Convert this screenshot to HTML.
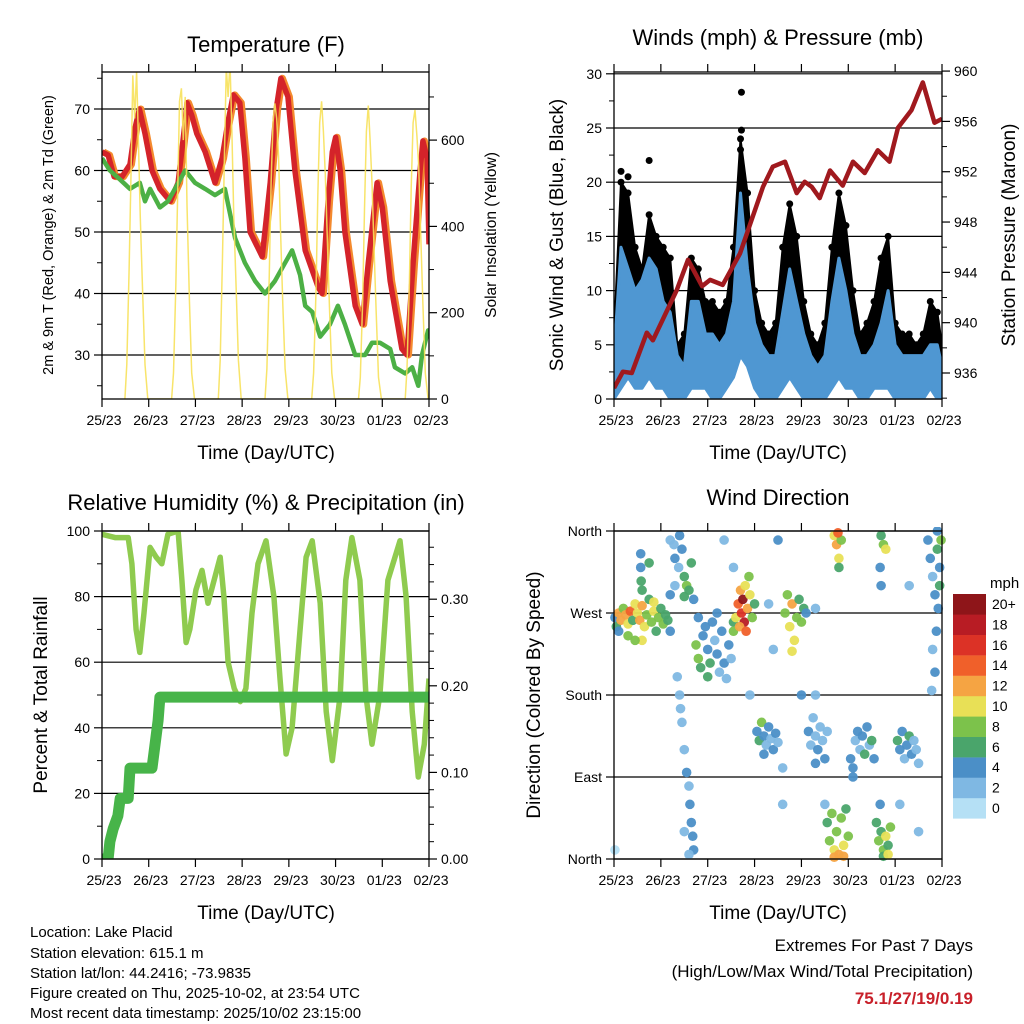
<!DOCTYPE html>
<html><head><meta charset="utf-8"><style>
body{margin:0;background:#fff;}
svg{display:block;font-family:"Liberation Sans",Arial,sans-serif;}
</style></head><body>
<svg id="s" width="1024" height="1024" viewBox="0 0 1024 1024" xmlns="http://www.w3.org/2000/svg">
<defs>
<clipPath id="c1"><rect x="102" y="72" width="327" height="327"/></clipPath>
<clipPath id="c2"><rect x="614" y="72" width="328" height="327"/></clipPath>
<clipPath id="c3"><rect x="102" y="531" width="327" height="328"/></clipPath>
<clipPath id="c4"><rect x="610" y="527" width="336" height="336"/></clipPath>
</defs>
<g id="g1"></g>
<g id="g2"></g>
<g id="g3"></g>
<g id="g4"></g>
<g font-size="22" text-anchor="middle" fill="#000">
<text x="266" y="52">Temperature (F)</text>
<text x="778" y="45">Winds (mph) &amp; Pressure (mb)</text>
<text x="266" y="510">Relative Humidity (%) &amp; Precipitation (in)</text>
<text x="778" y="505">Wind Direction</text>
</g>
<g font-size="19" text-anchor="middle">
<text x="266" y="459">Time (Day/UTC)</text>
<text x="778" y="459">Time (Day/UTC)</text>
<text x="266" y="919">Time (Day/UTC)</text>
<text x="778" y="919">Time (Day/UTC)</text>
<text font-size="14.5" transform="translate(53,235) rotate(-90)">2m &amp; 9m T (Red, Orange) &amp; 2m Td (Green)</text>
<text font-size="15.5" transform="translate(496,235) rotate(-90)">Solar Insolation (Yellow)</text>
<text transform="translate(563,235) rotate(-90)">Sonic Wind &amp; Gust (Blue, Black)</text>
<text transform="translate(1015,235) rotate(-90)">Station Pressure (Maroon)</text>
<text transform="translate(47,695) rotate(-90)">Percent &amp; Total Rainfall</text>
<text transform="translate(540,695) rotate(-90)">Direction (Colored By Speed)</text>
</g>
<g font-size="15">
<text x="30" y="937">Location: Lake Placid</text>
<text x="30" y="958">Station elevation: 615.1 m</text>
<text x="30" y="978">Station lat/lon: 44.2416; -73.9835</text>
<text x="30" y="998">Figure created on Thu, 2025-10-02, at 23:54 UTC</text>
<text x="30" y="1018">Most recent data timestamp: 2025/10/02 23:15:00</text>
</g>
<g font-size="17" text-anchor="end">
<text x="973" y="951">Extremes For Past 7 Days</text>
<text x="973" y="977">(High/Low/Max Wind/Total Precipitation)</text>
<text x="973" y="1004" fill="#c8202a" font-weight="bold">75.1/27/19/0.19</text>
</g>
</svg>
<script>
// ---- data ----
const dayLabels=["25/23","26/23","27/23","28/23","29/23","30/23","01/23","02/23"];
const tempT=[0,.13,.26,.43,.6,.71,.8,.92,1.07,1.24,1.46,1.63,1.78,1.82,1.92,2.03,2.21,2.42,2.57,2.7,2.81,2.95,3.06,3.17,3.43,3.6,3.73,3.83,3.98,4.13,4.35,4.63,4.71,4.84,4.93,5.0,5.1,5.2,5.42,5.57,5.7,5.89,6.0,6.17,6.42,6.53,6.66,6.81,6.87,6.96,7.0];
const tempV=[63,62.5,59,59,61,67,70,66,60,57,55,58,68,71,69,66,63,58,62,68,72.3,71,62,50,46,58,70,75,72,60,47,41,40,55,63,65.4,60,50,38,35,45,58,54,42,31,30,45,60,64.8,62,48];
const dewT=[0,.17,.39,.6,.81,.92,1.03,1.24,1.41,1.56,1.78,1.99,2.21,2.42,2.63,2.74,2.85,3.06,3.28,3.49,3.7,3.92,4.07,4.24,4.35,4.5,4.67,4.88,5.05,5.2,5.42,5.63,5.78,5.95,6.17,6.27,6.49,6.64,6.77,6.85,6.98,7.0];
const dewV=[62,60,58.5,57,58,55,57,54,55,57,60,58,57,56,57,53,49,45,42,40,42,45,47,43,38,37,33,35,38,35,30,30,32,32,31,28,27,28,25,30,34,33];
const solarT=[.49,.53,.58,.62,.66,.7,.74,.78,.82,.87,.92,.98, 1.49,1.53,1.58,1.62,1.66,1.7,1.74,1.78,1.82,1.87,1.92,1.98, 2.49,2.53,2.58,2.62,2.66,2.7,2.74,2.78,2.82,2.87,2.92,2.98, 3.49,3.53,3.58,3.62,3.66,3.7,3.74,3.78,3.82,3.87,3.92,3.98, 4.49,4.53,4.58,4.62,4.66,4.7,4.74,4.78,4.82,4.87,4.92,4.98, 5.49,5.53,5.58,5.62,5.66,5.7,5.74,5.78,5.82,5.87,5.92,5.98, 6.49,6.53,6.58,6.62,6.66,6.7,6.74,6.78,6.82,6.87,6.92,6.98];
const solarW=[0,80,300,520,750,650,760,600,420,250,80,0, 0,60,260,480,690,720,600,700,450,230,60,0, 0,90,330,560,770,700,780,620,430,260,90,0, 0,70,280,500,640,685,650,560,400,220,70,0, 0,60,250,470,640,690,620,520,380,210,60,0, 0,50,230,440,620,680,600,500,360,200,50,0, 0,70,270,490,640,670,610,540,390,220,60,0];
const windT=[0,.15,.3,.45,.6,.75,.9,1.05,1.2,1.35,1.5,1.65,1.8,1.95,2.1,2.25,2.4,2.55,2.7,2.85,3.0,3.15,3.3,3.45,3.6,3.75,3.9,4.05,4.2,4.35,4.5,4.65,4.8,4.95,5.1,5.25,5.4,5.55,5.7,5.85,6.0,6.15,6.3,6.45,6.6,6.75,6.9,7.0];
const gustV=[6,20,19,14,12,17,15,14,13,5,6,13,12,9,9,8,9,14,24,19,10,7,6,7,14,18,15,9,6,5,7,14,19,16,10,6,7,9,13,15,7,6,6,5,6,9,8,5];
const windHi=[4,14,12,10,11,13,12,9,8,4,3,9,9,6,6,5,6,9,19,12,7,5,4,4,8,12,9,6,4,3,4,9,13,10,6,4,4,5,7,10,5,4,4,4,4,5,5,3];
const windLo=[0,1,2,1,1,2,1,1,0,0,0,1,1,1,0,0,1,2,4,3,1,0,0,0,1,2,1,0,0,0,0,1,2,1,1,0,0,1,1,1,0,0,0,0,0,1,0,0];
const gustPeakT=[.75,2.72,2.72,2.7,.15,.3];
const gustPeakV=[22,28.3,24.8,23,21,20.5];
const presT=[0,.19,.38,.7,.83,1.34,1.58,1.88,2.05,2.32,2.69,3.18,3.39,3.65,3.9,4.07,4.22,4.39,4.61,4.88,5.1,5.35,5.63,5.88,6.06,6.35,6.59,6.84,7.0];
const presV=[934.8,936.1,936,939.2,938.6,942.6,945,942.9,943.4,943,945.5,950.8,952.4,952.8,950.3,951.2,950.8,949.9,952.1,950.9,952.8,951.9,953.7,952.8,955.5,956.9,959.1,955.9,956.2];
const rhT=[0,.28,.56,.64,.73,.81,.9,1.03,1.16,1.28,1.41,1.63,1.71,1.8,1.88,2.01,2.14,2.27,2.4,2.53,2.61,2.7,2.83,2.96,3.08,3.21,3.34,3.51,3.68,3.81,3.94,4.07,4.24,4.37,4.5,4.67,4.8,4.93,5.1,5.22,5.35,5.52,5.65,5.78,5.95,6.12,6.38,6.51,6.64,6.77,6.9,7.0];
const rhV=[99,98,98,90,70,63,75,95,92,90,99,100,85,66,70,82,88,78,85,92,80,60,52,48,52,75,90,97,80,55,32,40,70,92,97,78,45,30,50,85,98,85,50,35,50,85,97,80,45,25,35,55];
const rainT=[0,.13,.17,.24,.34,.39,.56,.6,1.07,1.13,1.2,1.24,7.0];
const rainV=[0,0,.02,.035,.05,.07,.07,.105,.105,.13,.16,.187,.187];
const dirDay=[0.02,0.05,0.1,0.15,0.2,0.25,0.3,0.35,0.4,0.45,0.5,0.55,0.6,0.65,0.7,0.75,0.8,0.85,0.9,0.95,1.0,1.05,1.1,1.15,1.2,0.3,0.6,0.1,0.45,0.85,
0.57,0.57,0.58,0.6,0.75,
1.2,1.28,1.3,1.38,1.45,1.5,1.55,1.6,1.65,1.3,1.2,1.7,1.4,1.5,
1.35,1.4,1.42,1.45,1.5,1.55,1.6,1.62,1.65,1.68,1.7,1.6,1.5,
1.75,1.8,1.85,1.9,1.95,2.0,2.05,2.1,2.15,2.2,2.25,2.3,2.35,2.4,2.45,2.5,2.55,1.8,2.2,2.0,
2.55,2.6,2.65,2.7,2.72,2.75,2.78,2.8,2.85,2.88,2.9,2.95,3.0,2.68,2.82,
3.05,3.1,3.15,3.2,3.25,3.3,3.35,3.4,3.45,3.5,3.2,
3.65,3.7,3.75,3.8,3.85,3.9,3.95,4.0,4.05,3.8,4.1,
4.15,4.2,4.25,4.3,4.35,4.4,4.45,4.5,4.55,4.3,
4.5,4.55,4.6,4.65,4.7,4.75,4.8,4.85,4.9,4.95,5.0,4.7,4.9,
4.7,4.75,4.8,4.85,4.78,4.8,
5.05,5.1,5.15,5.2,5.25,5.3,5.35,5.4,5.45,5.5,5.55,5.1,
5.6,5.65,5.7,5.75,5.8,5.85,5.9,5.75,5.68,5.85,
5.7,5.75,5.8,5.68,5.7,
6.05,6.1,6.15,6.2,6.25,6.3,6.35,6.4,6.45,6.5,
6.7,6.75,6.8,6.85,6.9,6.95,6.92,6.88,6.8,6.85,6.78,6.95,6.98,6.9,
0.02,2.35,2.55,3.3,3.5,3.4,3.6,3.6,4.3,4.3,6.1,6.3,6.5,4.0,2.9];
const dirDeg=[265,255,270,262,275,268,258,272,262,280,270,262,278,255,268,285,260,272,250,265,275,258,268,262,250,245,240,250,240,282,
335,320,305,295,325,
350,345,330,320,340,310,300,295,325,300,290,285,355,288,
200,180,165,150,120,95,80,60,40,25,10,5,30,
235,220,210,245,255,230,215,260,240,225,205,250,215,198,235,220,260,265,270,200,
250,265,280,295,270,285,260,300,275,310,290,265,280,255,250,
140,130,150,135,125,145,132,120,138,128,115,
270,290,255,280,240,265,285,260,275,228,270,
140,125,155,135,120,145,130,110,140,105,
60,40,20,50,10,30,5,45,15,55,25,2,3,
355,345,330,350,358,320,
110,100,130,140,120,135,115,145,125,130,110,90,
40,20,30,10,25,15,35,3,60,5,
355,345,340,320,300,
130,120,140,110,125,135,115,130,120,105,
350,330,310,290,340,320,275,250,230,205,185,300,350,360,
10,350,320,280,350,230,60,100,275,180,60,300,30,180,180];
const dirSpd=[4,6,12,12,8,11,10,13,6,9,10,12,11,9,7,6,8,10,6,7,6,8,6,5,4,7,10,4,8,9,
4,3,5,6,6,
2,2,3,2,4,6,7,6,5,2,3,3,4,6,
1,2,2,1,2,3,2,4,3,3,3,2,2,
7,8,6,4,4,4,6,4,2,4,2,4,4,2,4,2,6,3,4,6,
8,10,14,12,16,20,18,10,12,8,9,8,6,12,14,
4,6,8,4,2,4,2,4,4,2,4,
8,7,10,12,10,8,6,8,6,10,4,
4,2,2,2,4,2,2,4,2,4,
2,6,8,7,10,8,12,8,9,6,8,12,12,
10,12,10,8,14,6,
4,4,2,4,2,4,6,4,2,6,4,4,
6,8,6,8,9,6,8,6,4,10,
6,8,10,4,4,
6,4,4,2,4,6,4,2,2,2,
4,4,2,4,6,4,4,4,2,4,2,6,8,4,
0,1,2,1,4,1,1,2,2,1,1,2,1,4,1];
const speedColors=["#b5e0f5","#7fb8e3","#4b8fc7","#4aa56b","#7cc24b","#e8e056","#f5a443","#f0602a","#dc3226","#b81c24","#8e1519"];
const speedLabels=["0","2","4","6","8","10","12","14","16","18","20+"];
const dirLabels=["North","East","South","West","North"];

// ---- helpers ----
const NS="http://www.w3.org/2000/svg";
function mk(parent,tag,attrs){const e=document.createElementNS(NS,tag);for(const k in attrs)e.setAttribute(k,attrs[k]);parent.appendChild(e);return e;}
function tx(parent,x,y,str,anchor,size){const e=mk(parent,"text",{x:x,y:y,"text-anchor":anchor,"font-size":size});e.textContent=str;return e;}
function path(xs,ys,fx,fy){return xs.map((t,i)=>(i?"L":"M")+fx(t).toFixed(1)+","+fy(ys[i]).toFixed(1)).join("");}

function frame(g,x0,x1,y0,y1){
  const xd=d=>x0+d*(x1-x0)/7;
  const r=mk(g,"rect",{x:x0,y:y0,width:x1-x0,height:y1-y0,fill:"none",stroke:"#000","stroke-width":1.3});
  
  
  for(let i=0;i<8;i++){
    const x=xd(i);
    const t=mk(g,"line",{x1:x,x2:x,y1:y1,y2:y1+8,stroke:"#000","stroke-width":1.2});
    
    
    const t2=mk(g,"line",{x1:x,x2:x,y1:y0,y2:y0-8,stroke:"#000","stroke-width":1.2});
    
    
    const l=tx(g,x+2,y1+26,dayLabels[i],"middle",14);
    
    
  }
  return xd;
}
function yaxis(g,x,side,vals,labels,fy,minors,grid,gx0,gx1){
  const dir=side==="left"?-1:1;
  vals.forEach((v,i)=>{
    const y=fy(v);
    const t=mk(g,"line",{x1:x,x2:x+dir*8,y1:y,y2:y,stroke:"#000","stroke-width":1.2});
    
    
    if(grid){const gl=mk(g,"line",{x1:gx0,x2:gx1,y1:y,y2:y,stroke:"#000","stroke-width":1.2});
      
      }
    const l=tx(g,x+dir*12,y+5,labels[i],side==="left"?"end":"start",14);
    
    
  });
  minors.forEach(v=>{const y=fy(v);
    const t=mk(g,"line",{x1:x,x2:x+dir*5,y1:y,y2:y,stroke:"#000","stroke-width":1});
    
    });
}

// ---- panel 1: temperature ----
(function(){
  const g=document.getElementById("g1");
  const X0=102,X1=429,Y0=72,Y1=399;
  const fy=v=>355-(v-30)*6.15, fs=w=>399-w*0.4315;
  const xd=d=>X0+d*(X1-X0)/7;
  yaxis(g,X0,"left",[30,40,50,60,70],["30","40","50","60","70"],fy,[25,35,45,55,65,75],true,X0,X1);
  yaxis(g,X1,"right",[0,200,400,600],["0","200","400","600"],fs,[100,300,500,700],false);
  const c=mk(g,"g",{"clip-path":"url(#c1)"});
  const o=mk(c,"path",{d:path(tempT,tempV,t=>xd(t)+1.5,fy),fill:"none",stroke:"#f48a2e","stroke-width":7,"stroke-linejoin":"round"});
  
  
  const r=mk(c,"path",{d:path(tempT,tempV,xd,fy),fill:"none",stroke:"#d4232a","stroke-width":5.5,"stroke-linejoin":"round"});
  
  
  const d=mk(c,"path",{d:path(dewT,dewV,xd,fy),fill:"none",stroke:"#4cb045","stroke-width":4.5,"stroke-linejoin":"round"});
  
  
  const s=mk(c,"path",{d:path(solarT,solarW,xd,fs),fill:"none",stroke:"#f7e15a","stroke-width":1.5,opacity:0.9});
  
  
  frame(g,X0,X1,Y0,Y1);
})();

// ---- panel 2: winds ----
(function(){
  const g=document.getElementById("g2");
  const X0=614,X1=942,Y0=72,Y1=399;
  const fy=v=>399-v*10.84, fp=p=>373-(p-936)*12.58;
  const xd=d=>X0+d*(X1-X0)/7;
  yaxis(g,X0,"left",[0,5,10,15,20,25,30],["0","5","10","15","20","25","30"],fy,[2.5,7.5,12.5,17.5,22.5,27.5],true,X0,X1);
  yaxis(g,X1,"right",[936,940,944,948,952,956,960],["936","940","944","948","952","956","960"],fp,[934,938,942,946,950,954,958],false);
  const c=mk(g,"g",{"clip-path":"url(#c2)"});
  const up=windT.map((t,i)=>xd(t).toFixed(1)+","+fy(gustV[i]).toFixed(1));
  const dn=windT.map((t,i)=>xd(t).toFixed(1)+","+fy(windHi[i]).toFixed(1)).reverse();
  const ga=mk(c,"polygon",{points:up.concat(dn).join(" "),fill:"#000",stroke:"#000","stroke-width":2,"stroke-linejoin":"round"});
  
  
  windT.forEach((t,i)=>{const p=mk(c,"circle",{cx:xd(t),cy:fy(gustV[i]),r:3.5,fill:"#000"});
    
    });
  gustPeakT.forEach((t,i)=>{const p=mk(c,"circle",{cx:xd(t),cy:fy(gustPeakV[i]),r:3.5,fill:"#000"});
    
    });
  const bu=windT.map((t,i)=>xd(t).toFixed(1)+","+fy(windHi[i]).toFixed(1));
  const bd=windT.map((t,i)=>xd(t).toFixed(1)+","+fy(windLo[i]).toFixed(1)).reverse();
  const wb=mk(c,"polygon",{points:bu.concat(bd).join(" "),fill:"#4f97d2",stroke:"#4f97d2","stroke-width":3,"stroke-linejoin":"round"});
  
  
  const pl=mk(c,"path",{d:path(presT,presV,xd,fp),fill:"none",stroke:"#a0191e","stroke-width":4.5,"stroke-linejoin":"round"});
  
  
  frame(g,X0,X1,Y0,Y1);
})();

// ---- panel 3: humidity & precip ----
(function(){
  const g=document.getElementById("g3");
  const X0=102,X1=429,Y0=531,Y1=859;
  const fy=v=>859-v*3.28, fr=p=>859-p*866;
  const xd=d=>X0+d*(X1-X0)/7;
  yaxis(g,X0,"left",[0,20,40,60,80,100],["0","20","40","60","80","100"],fy,[10,30,50,70,90],true,X0,X1);
  yaxis(g,X1,"right",[0,.1,.2,.3],["0.00","0.10","0.20","0.30"],fr,[.02,.04,.06,.08,.12,.14,.16,.18,.22,.24,.26,.28,.32,.34,.36],false);
  const c=mk(g,"g",{"clip-path":"url(#c3)"});
  const rh=mk(c,"path",{d:path(rhT,rhV,xd,fy),fill:"none",stroke:"#8fcb4f","stroke-width":5.5,"stroke-linejoin":"round"});
  
  
  const rn=mk(c,"path",{d:path(rainT,rainV,xd,fr),fill:"none",stroke:"#47b449","stroke-width":11,"stroke-linejoin":"round","stroke-linecap":"round"});
  
  
  frame(g,X0,X1,Y0,Y1);
})();

// ---- panel 4: wind direction ----
(function(){
  const g=document.getElementById("g4");
  const X0=614,X1=942,Y0=531,Y1=859;
  const fy=v=>859-v*(328/360);
  const xd=d=>X0+d*(X1-X0)/7;
  yaxis(g,X0,"left",[0,90,180,270,360],dirLabels,fy,[],true,X0,X1);
  const c=mk(g,"g",{"clip-path":"url(#c4)"});
  dirDay.forEach((t,i)=>{
    const k=Math.min(10,Math.round(dirSpd[i]/2));
    const p=mk(c,"circle",{cx:xd(t),cy:fy(dirDeg[i]),r:4.8,fill:speedColors[k],opacity:0.95});
    
    
  });
  frame(g,X0,X1,Y0,Y1);
  const lg=mk(g,"g",{});
  
  
  const u=tx(lg,990,588,"mph","start",15);
  
  
  speedColors.forEach((col,i)=>{
    const j=10-i, y=594+j*20.4;
    const b=mk(lg,"rect",{x:953,y:y,width:33,height:20.6,fill:col});
    
    
    const l=tx(lg,992,y+15,speedLabels[i],"start",14);
    
    
  });
})();
</script>
</body></html>
